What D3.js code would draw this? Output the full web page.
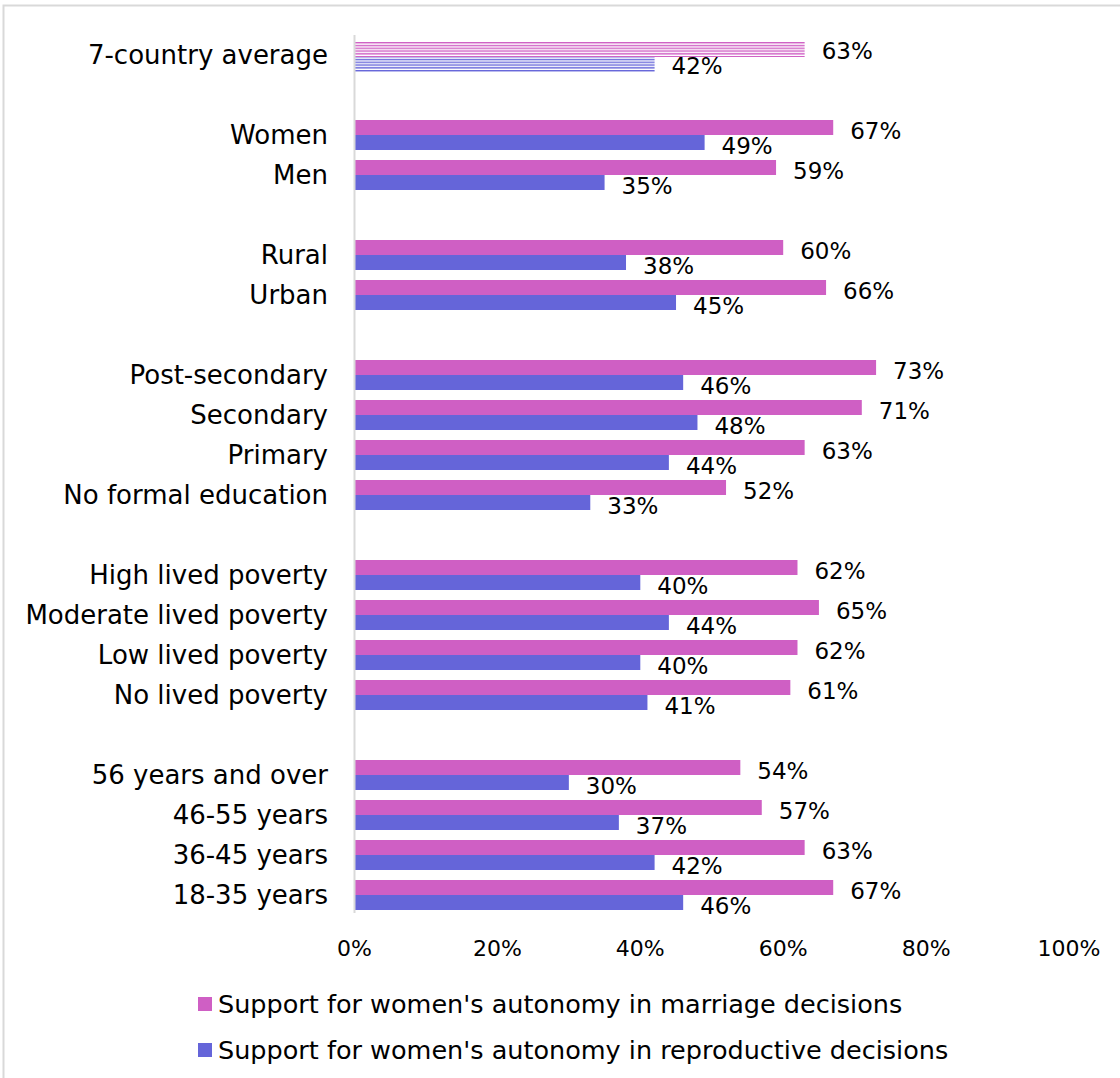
<!DOCTYPE html>
<html>
<head>
<meta charset="utf-8">
<script src="https://cdn.jsdelivr.net/npm/d3@7"></script>
<style>
  body { margin: 0; background: #fff; }
  text { font-family: "DejaVu Sans", sans-serif; fill: #000; }
</style>
</head>
<body>
<div id="chart"></div>
<script>
// Rows from top to bottom; "" marks an empty spacer row between groups
var categories = [
    "7-country average", "",
    "Women", "Men", "",
    "Rural", "Urban", "",
    "Post-secondary", "Secondary", "Primary", "No formal education", "",
    "High lived poverty", "Moderate lived poverty", "Low lived poverty", "No lived poverty", "",
    "56 years and over", "46-55 years", "36-45 years", "18-35 years"
];

// Values in percent, null for spacer rows
var marriageValues = [
    63, null,
    67, 59, null,
    60, 66, null,
    73, 71, 63, 52, null,
    62, 65, 62, 61, null,
    54, 57, 63, 67
];
var reproductiveValues = [
    42, null,
    49, 35, null,
    38, 45, null,
    46, 48, 44, 33, null,
    40, 44, 40, 41, null,
    30, 37, 42, 46
];

var seriesNames = [
    "Support for women's autonomy in marriage decisions",
    "Support for women's autonomy in reproductive decisions"
];
var tickValues = [0, 20, 40, 60, 80, 100];

var pink = "#cf5fc4",
    blue = "#6565d9";

var W = 1120, H = 1078;
var svg = d3.select("#chart")
    .append("svg")
    .attr("width", W)
    .attr("height", H);

// Chart frame (only top and left edges are visible in the picture)
svg.append("rect")
    .attr("x", 3.5).attr("y", 5.5)
    .attr("width", W + 20).attr("height", H + 20)
    .attr("fill", "none")
    .attr("stroke", "#d9d9d9")
    .attr("stroke-width", 2);

// Hatch patterns for the average row
var defs = svg.append("defs");
[["hatchPink", pink], ["hatchBlue", blue]].forEach(function(p) {
    var pat = defs.append("pattern")
        .attr("id", p[0])
        .attr("patternUnits", "userSpaceOnUse")
        .attr("width", 8).attr("height", 2.8);
    pat.append("rect").attr("width", 8).attr("height", 2.8).attr("fill", "#fff");
    pat.append("rect").attr("width", 8).attr("height", 1.4).attr("fill", p[1]);
});

var x = d3.scaleLinear()
    .domain([0, 100])
    .range([354.5, 1069]);

var y = d3.scaleBand()
    .domain(d3.range(categories.length))
    .range([35, 915])
    .paddingInner(0.25)
    .paddingOuter(0.125);

var barH = y.bandwidth() / 2;

// Category labels
svg.append("g")
    .selectAll("text")
    .data(categories)
    .enter().append("text")
    .attr("x", 328)
    .attr("y", function(d, i) { return y(i) + y.bandwidth() / 2; })
    .attr("text-anchor", "end")
    .attr("dominant-baseline", "central")
    .style("font-size", "26px")
    .text(function(d) { return d; });

// Bars
var rows = categories.map(function(c, i) {
    return { i: i, m: marriageValues[i], r: reproductiveValues[i] };
}).filter(function(d) { return d.m !== null; });

var series = [
    { key: "m", color: pink, hatch: "url(#hatchPink)", offset: 0 },
    { key: "r", color: blue, hatch: "url(#hatchBlue)", offset: 1 }
];

series.forEach(function(s) {
    var g = svg.append("g");
    g.selectAll("rect")
        .data(rows)
        .enter().append("rect")
        .attr("x", x(0))
        .attr("y", function(d) { return y(d.i) + s.offset * barH + (d.i === 0 ? 2 : 0); })
        .attr("width", function(d) { return x(d[s.key]) - x(0); })
        .attr("height", barH)
        .attr("fill", function(d) { return d.i === 0 ? s.hatch : s.color; });

    g.selectAll("text")
        .data(rows)
        .enter().append("text")
        .attr("x", function(d) { return x(d[s.key]) + 17; })
        .attr("y", function(d) { return y(d.i) + s.offset * barH + barH / 2 + 3; })
        .attr("dominant-baseline", "central")
        .style("font-size", "23px")
        .text(function(d) { return d[s.key] + "%"; });
});

// Vertical axis line
svg.append("line")
    .attr("x1", x(0)).attr("x2", x(0))
    .attr("y1", 35).attr("y2", 913)
    .attr("stroke", "#d9d9d9")
    .attr("stroke-width", 2);

// X tick labels
svg.append("g")
    .selectAll("text")
    .data(tickValues)
    .enter().append("text")
    .attr("x", function(d) { return x(d); })
    .attr("y", 948)
    .attr("text-anchor", "middle")
    .attr("dominant-baseline", "central")
    .style("font-size", "22px")
    .text(function(d) { return d + "%"; });

// Legend
var legend = svg.append("g");
[pink, blue].forEach(function(c, i) {
    var ly = 1004 + i * 46;
    legend.append("rect")
        .attr("x", 198).attr("y", ly - 7)
        .attr("width", 14).attr("height", 14)
        .attr("fill", c);
    legend.append("text")
        .attr("x", 218).attr("y", ly)
        .attr("dominant-baseline", "central")
        .style("font-size", "25.5px")
        .text(seriesNames[i]);
});
</script>
</body>
</html>
